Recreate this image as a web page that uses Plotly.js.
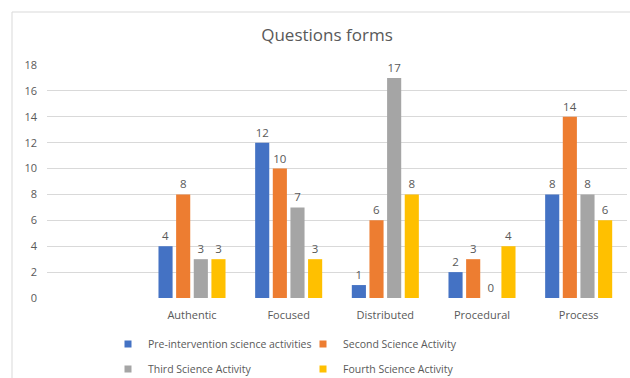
<!DOCTYPE html>
<html>
<head>
<meta charset="utf-8">
<script src="https://cdn.plot.ly/plotly-3.0.1.min.js"></script>
<style>
  html, body { margin: 0; padding: 0; background: #ffffff; }
  #chart { width: 630px; height: 378px; }
</style>
</head>
<body>
<div id="chart"></div>
<script>
// Question forms counted per activity
const categories = ['Authentic', 'Focused', 'Distributed', 'Procedural', 'Process'];
const axisCategories = [' '].concat(categories); // leading empty slot on the axis

const seriesNames = [
  'Pre-intervention science activities',
  'Second Science Activity',
  'Third Science Activity',
  'Fourth Science Activity'
];
const preIntervention = [4, 12, 1, 2, 8];
const secondActivity  = [8, 10, 6, 3, 14];
const thirdActivity   = [3, 7, 17, 0, 8];
const fourthActivity  = [3, 3, 8, 4, 6];

const seriesValues = [preIntervention, secondActivity, thirdActivity, fourthActivity];
const seriesColors = ['#4472C4', '#ED7D31', '#A5A5A5', '#FFC000'];
const legendIds = ['legend', 'legend2', 'legend3', 'legend4'];

const FONT = 'Open Sans, Liberation Sans, sans-serif';
const TEXT_GREY = '#595959';

const barTraces = seriesValues.map((vals, i) => ({
  type: 'bar',
  name: seriesNames[i],
  x: categories,
  y: vals,
  text: vals.map(String),
  textposition: 'outside',
  textfont: { family: FONT, size: 11.5, color: TEXT_GREY },
  cliponaxis: false,
  marker: { color: seriesColors[i] },
  showlegend: false,
  hoverinfo: 'x+y+name'
}));

// small square legend keys, one per series
const keyTraces = seriesNames.map((name, i) => ({
  type: 'scatter',
  mode: 'markers',
  name: name,
  x: [null],
  y: [null],
  marker: { symbol: 'square', size: 7, color: seriesColors[i] },
  legend: legendIds[i],
  showlegend: true,
  hoverinfo: 'skip'
}));

// plot area in pixels: left 47, right 627, top 65 (value 18), bottom 298 (value 0)
const plotL = 47, plotW = 580, plotB = 298, plotH = 233;
const px = (x) => (x - plotL) / plotW;
const py = (y) => (plotB - y) / plotH;

function legendAt(xText, yMid) {
  return {
    visible: true,
    x: px(xText - 40), y: py(yMid), xanchor: 'left', yanchor: 'middle',
    xref: 'paper', yref: 'paper',
    bgcolor: 'rgba(0,0,0,0)', borderwidth: 0,
    font: { family: FONT, size: 10.5, color: TEXT_GREY },
    itemclick: false, itemdoubleclick: false
  };
}

const layout = {
  width: 630,
  height: 378,
  showlegend: true,
  margin: { l: plotL, r: 630 - plotL - plotW, t: plotB - plotH, b: 378 - plotB, pad: 0, autoexpand: false },
  paper_bgcolor: '#ffffff',
  plot_bgcolor: '#ffffff',
  title: {
    text: 'Questions forms',
    font: { family: FONT, size: 17, color: TEXT_GREY },
    x: 327 / 630, xanchor: 'center', xref: 'container',
    y: 1 - 35 / 378, yanchor: 'middle', yref: 'container'
  },
  barmode: 'group',
  bargap: 0.27,
  bargroupgap: 0.2,
  xaxis: {
    type: 'category',
    categoryorder: 'array',
    categoryarray: axisCategories,
    range: [-0.5, axisCategories.length - 0.5],
    showgrid: false,
    showline: false,
    zeroline: false,
    ticks: '',
    ticklabelstandoff: 9,
    tickfont: { family: FONT, size: 11, color: TEXT_GREY },
    fixedrange: true
  },
  yaxis: {
    range: [0, 18],
    dtick: 2,
    showgrid: true,
    gridcolor: '#d9d9d9',
    gridwidth: 1,
    zeroline: false,
    showline: false,
    ticks: '',
    ticklabelstandoff: 9,
    tickfont: { family: FONT, size: 11, color: TEXT_GREY },
    fixedrange: true
  },
  legend:  legendAt(148, 344),
  legend2: legendAt(343, 344),
  legend3: legendAt(148, 369),
  legend4: legendAt(343, 369),
  shapes: [{
    type: 'rect', xref: 'paper', yref: 'paper',
    x0: px(12), x1: px(660), y0: py(12), y1: py(420),
    line: { color: '#d9d9d9', width: 1 },
    fillcolor: 'rgba(0,0,0,0)',
    layer: 'below'
  }]
};

Plotly.newPlot('chart', barTraces.concat(keyTraces), layout, { displayModeBar: false, staticPlot: true });
</script>
</body>
</html>
